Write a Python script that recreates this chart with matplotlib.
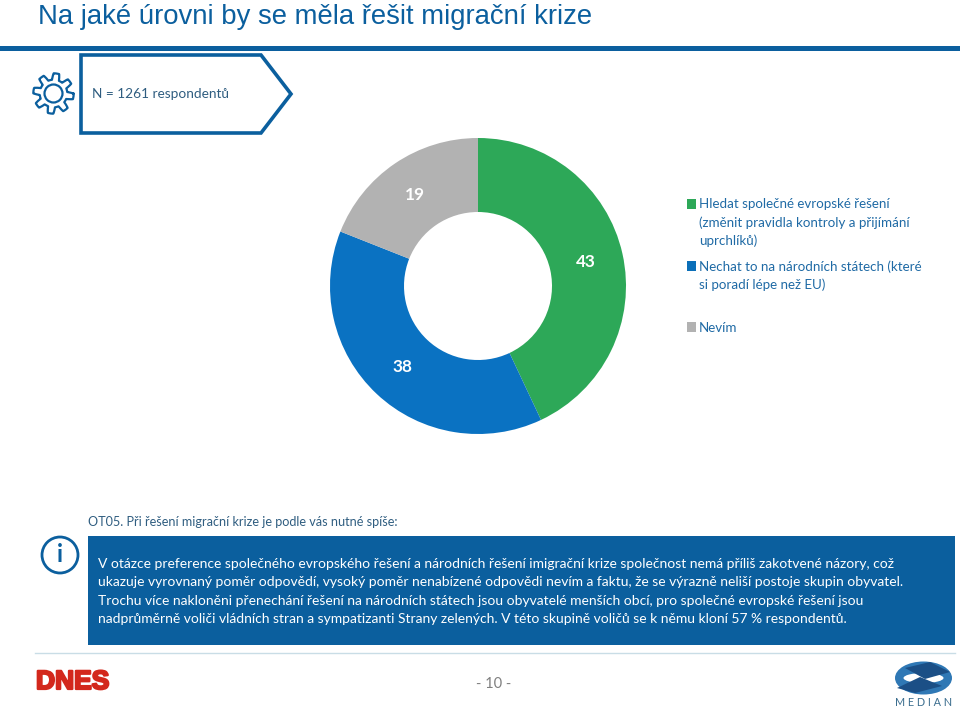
import numpy as np
import matplotlib
matplotlib.use("Agg")
import matplotlib.pyplot as plt
import matplotlib.patheffects as pe
from matplotlib.patches import Polygon, Rectangle, Circle, Ellipse

W, H = 960, 713
values = [43, 38, 19]
value_labels = ["43", "38", "19"]
colors = ["#2DA858", "#0A72C2", "#B2B2B2"]
legend_labels = [
    ["Hledat společné evropské řešení", "(změnit pravidla kontroly a přijímání", "uprchlíků)"],
    ["Nechat to na národních státech (které", "si poradí lépe než EU)"],
    ["Nevím"],
]
title = "Na jaké úrovni by se měla řešit migrační krize"
n_text = "N = 1261 respondentů"
question = "OT05. Při řešení migrační krize je podle vás nutné spíše:"
body = [
    "V otázce preference společného evropského řešení a národních řešení imigrační krize společnost nemá příliš zakotvené názory, což",
    "ukazuje vyrovnaný poměr odpovědí, vysoký poměr nenabízené odpovědi nevím a faktu, že se výrazně neliší postoje skupin obyvatel.",
    "Trochu více nakloněni přenechání řešení na národních státech jsou obyvatelé menších obcí, pro společné evropské řešení jsou",
    "nadprůměrně voliči vládních stran a sympatizanti Strany zelených. V této skupině voličů se k němu kloní 57 % respondentů.",
]
page = "- 10 -"

BLUE = "#0B5F9E"
TXT = "#2F5D80"
LEG = "#1F6AA5"
F = "Lato"

fig = plt.figure(figsize=(W / 100, H / 100), dpi=100, facecolor="white")

# Donut (below the overlay)
ax = fig.add_axes([(478 - 150) / W, 1 - (286 + 150) / H, 300 / W, 300 / H], zorder=0)
wedges, _ = ax.pie(values, colors=colors, startangle=90, counterclock=False, radius=148 / 150,
                   wedgeprops=dict(width=74 / 150, edgecolor="none"))
ax.set_xlim(-1, 1); ax.set_ylim(-1, 1); ax.set_aspect("equal")

bg = fig.add_axes([0, 0, 1, 1], zorder=1)
bg.set_xlim(0, W); bg.set_ylim(H, 0); bg.axis("off")

bg.text(38, 24, title, fontsize=19.8, color=BLUE, family="Liberation Sans", va="baseline", ha="left")
bg.add_patch(Rectangle((0, 46), W, 5, fc=BLUE, ec="none"))

# Pentagon
bg.add_patch(Polygon([(81, 55), (261, 55), (291, 94), (261, 133), (81, 133)], closed=True,
                     fc="white", ec=BLUE, lw=2.6, joinstyle="miter"))
bg.text(92, 94, n_text, fontsize=9.85, color=TXT, family=F, va="center")

# Gear icon
cx, cy = 53.5, 93.5
t = np.linspace(0, 2 * np.pi, 400)
r = 17 + 3.2 * np.clip(2.2 * np.sin(8 * t + 0.4), -1, 1)
bg.plot(cx + r * np.cos(t), cy + r * np.sin(t), color=BLUE, lw=1.6)
bg.add_patch(Circle((cx, cy), 9, fc="none", ec=BLUE, lw=1.6))

for (px, py), s in zip([(586, 262), (402, 367), (415, 195)], value_labels):
    bg.text(px, py, s, fontsize=12.3, fontweight="bold", color="white", family=F, ha="center", va="center")

# Legend
for (sy, ys, lines, c) in [
    (204, [204, 223, 241], legend_labels[0], colors[0]),
    (266, [267, 285], legend_labels[1], "#0B6FB8"),
    (327, [328], legend_labels[2], colors[2]),
]:
    bg.add_patch(Rectangle((687, sy - 5), 9, 10, fc=c, ec="none"))
    for y, l in zip(ys, lines):
        bg.text(699, y, l, fontsize=9.6, color=LEG, family=F, va="center")

# Question and info box
bg.text(88, 522, question, fontsize=9.08, color=TXT, family=F, va="center")
bg.add_patch(Rectangle((88, 536), 867, 109, fc=BLUE, ec="none"))
for y, line in zip([564, 582, 601, 619], body):
    bg.text(98, y, line, fontsize=10.0, color="white", family=F, va="center")

# Info icon
bg.add_patch(Circle((60, 555), 18, fc="none", ec=BLUE, lw=2))
bg.text(60, 555, "i", fontsize=17, fontweight="bold", color=BLUE, family=F, ha="center", va="center")

# Footer
bg.plot([35, 955], [653, 653], color="#C9DDE6", lw=1)
bg.text(36, 689, "DNES", fontsize=19, fontweight="bold", color="#D3281C", family="Liberation Sans",
        va="baseline", ha="left",
        path_effects=[pe.withStroke(linewidth=1.6, foreground="#D3281C")])
bg.text(494, 684, page, fontsize=10.5, color="#7F7F7F", family=F, ha="center", va="center")

# Median logo
bg.add_patch(Ellipse((923.5, 678), 57, 33, fc="#2F78B5", ec="none"))
bg.add_patch(Ellipse((923.5, 678), 40, 10, fc="white", ec="none"))
bg.add_patch(Polygon([(905, 668), (930, 662), (950, 672), (925, 679)], fc="#1B4F86", ec="none"))
bg.add_patch(Polygon([(897, 688), (920, 677), (942, 686), (915, 693)], fc="#1B4F86", ec="none"))
bg.text(924, 703, "M E D I A N", fontsize=7.8, color="#3C6E8F", family=F, ha="center", va="center")

fig.savefig("out.png", dpi=100, facecolor="white")
